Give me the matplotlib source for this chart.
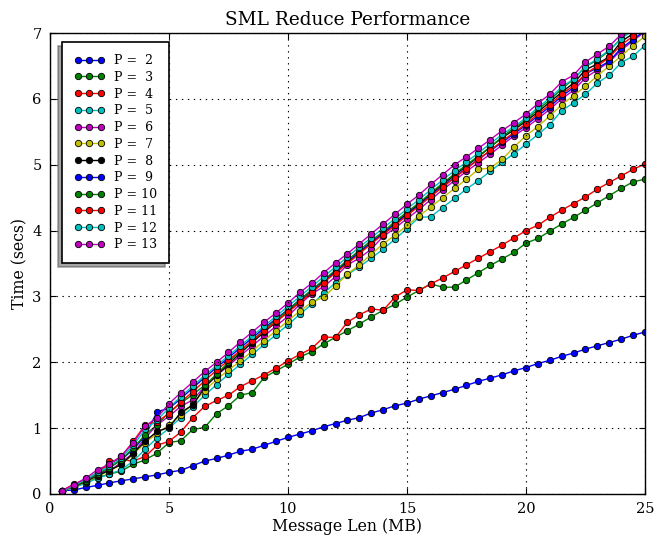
#!/usr/bin/env python3
"""
SML reduce timing: time (secs) vs message length (MB), one line per
process count P.  Writes out.png.
"""

import matplotlib
matplotlib.use("Agg")
import matplotlib.pyplot as plt

# ── Data ─────────────────────────────────────────────────────────────────────
msg_len = [
    0.5, 1.0, 1.5, 2.0, 2.5, 3.0, 3.5, 4.0, 4.5, 5.0,
    5.5, 6.0, 6.5, 7.0, 7.5, 8.0, 8.5, 9.0, 9.5, 10.0,
    10.5, 11.0, 11.5, 12.0, 12.5, 13.0, 13.5, 14.0, 14.5, 15.0,
    15.5, 16.0, 16.5, 17.0, 17.5, 18.0, 18.5, 19.0, 19.5, 20.0,
    20.5, 21.0, 21.5, 22.0, 22.5, 23.0, 23.5, 24.0, 24.5, 25.0,
]

t_p2 = [
    0.05, 0.06, 0.10, 0.13, 0.17, 0.20, 0.23, 0.26, 0.29, 0.33,
    0.36, 0.43, 0.50, 0.54, 0.59, 0.65, 0.68, 0.74, 0.80, 0.86,
    0.91, 0.96, 1.02, 1.07, 1.12, 1.16, 1.23, 1.28, 1.34, 1.38,
    1.44, 1.49, 1.54, 1.59, 1.65, 1.71, 1.76, 1.81, 1.87, 1.92,
    1.98, 2.03, 2.09, 2.14, 2.20, 2.25, 2.30, 2.35, 2.41, 2.46,
]
t_p3 = [
    0.05, 0.12, 0.18, 0.25, 0.30, 0.35, 0.45, 0.52, 0.62, 0.78,
    0.81, 0.98, 1.01, 1.22, 1.34, 1.50, 1.54, 1.77, 1.87, 1.97,
    2.08, 2.16, 2.28, 2.38, 2.48, 2.58, 2.69, 2.79, 2.88, 2.99,
    3.09, 3.19, 3.14, 3.14, 3.25, 3.36, 3.47, 3.57, 3.67, 3.81,
    3.88, 3.99, 4.10, 4.20, 4.31, 4.42, 4.53, 4.64, 4.74, 4.78,
]
t_p4 = [
    0.05, 0.15, 0.22, 0.29, 0.50, 0.52, 0.50, 0.57, 0.74, 0.80,
    0.94, 1.16, 1.33, 1.42, 1.50, 1.63, 1.72, 1.81, 1.91, 2.02,
    2.12, 2.21, 2.38, 2.38, 2.61, 2.72, 2.81, 2.79, 2.99, 3.10,
    3.09, 3.19, 3.28, 3.38, 3.48, 3.58, 3.68, 3.78, 3.89, 4.00,
    4.08, 4.20, 4.31, 4.41, 4.51, 4.63, 4.73, 4.83, 4.93, 5.01,
]
t_p5 = [
    0.04, 0.10, 0.16, 0.24, 0.30, 0.37, 0.50, 0.68, 0.85, 1.00,
    1.16, 1.32, 1.50, 1.66, 1.82, 1.97, 2.12, 2.27, 2.42, 2.57,
    2.73, 2.88, 3.05, 3.21, 3.33, 3.45, 3.58, 3.72, 3.87, 4.03,
    4.20, 4.21, 4.35, 4.49, 4.63, 4.76, 4.90, 5.04, 5.17, 5.31,
    5.46, 5.61, 5.82, 5.94, 6.07, 6.24, 6.36, 6.55, 6.65, 6.81,
]
t_p6 = [
    0.05, 0.12, 0.21, 0.32, 0.35, 0.48, 0.62, 0.85, 1.05, 1.18,
    1.33, 1.43, 1.63, 1.80, 1.95, 2.10, 2.25, 2.40, 2.55, 2.70,
    2.88, 3.04, 3.15, 3.30, 3.48, 3.58, 3.72, 3.91, 4.04, 4.18,
    4.32, 4.47, 4.62, 4.76, 4.90, 5.03, 5.16, 5.30, 5.44, 5.56,
    5.70, 5.84, 6.00, 6.13, 6.32, 6.44, 6.56, 6.74, 6.88, 7.02,
]
t_p7 = [
    0.04, 0.11, 0.18, 0.27, 0.35, 0.45, 0.60, 0.78, 0.92, 1.05,
    1.20, 1.37, 1.57, 1.74, 1.88, 2.02, 2.17, 2.33, 2.48, 2.63,
    2.78, 2.91, 2.99, 3.16, 3.34, 3.48, 3.64, 3.80, 3.93, 4.08,
    4.22, 4.36, 4.50, 4.64, 4.78, 4.93, 4.95, 5.08, 5.27, 5.44,
    5.58, 5.74, 5.91, 6.05, 6.19, 6.35, 6.50, 6.65, 6.81, 6.95,
]
t_p8 = [
    0.05, 0.11, 0.19, 0.28, 0.36, 0.45, 0.62, 0.80, 0.95, 1.01,
    1.24, 1.35, 1.62, 1.80, 1.97, 2.14, 2.30, 2.46, 2.61, 2.77,
    2.92, 3.07, 3.22, 3.37, 3.52, 3.67, 3.82, 3.96, 4.11, 4.26,
    4.40, 4.55, 4.70, 4.84, 4.98, 5.12, 5.27, 5.41, 5.53, 5.66,
    5.80, 5.95, 6.10, 6.24, 6.44, 6.53, 6.64, 6.87, 6.99, 7.13,
]
t_p9 = [
    0.05, 0.12, 0.20, 0.30, 0.40, 0.52, 0.68, 0.88, 1.25, 1.30,
    1.45, 1.61, 1.77, 1.92, 2.07, 2.22, 2.37, 2.52, 2.66, 2.80,
    2.95, 3.09, 3.24, 3.38, 3.53, 3.67, 3.82, 3.96, 4.10, 4.24,
    4.38, 4.53, 4.67, 4.81, 4.95, 5.08, 5.21, 5.34, 5.47, 5.60,
    5.74, 5.88, 6.04, 6.17, 6.38, 6.47, 6.57, 6.77, 6.90, 7.04,
]
t_p10 = [
    0.05, 0.12, 0.20, 0.30, 0.40, 0.52, 0.70, 0.90, 1.05, 1.24,
    1.38, 1.51, 1.65, 1.82, 2.00, 2.17, 2.33, 2.49, 2.65, 2.79,
    2.95, 3.10, 3.25, 3.40, 3.55, 3.70, 3.85, 3.98, 4.14, 4.28,
    4.42, 4.57, 4.72, 4.86, 5.00, 5.13, 5.27, 5.42, 5.56, 5.68,
    5.84, 5.98, 6.15, 6.30, 6.49, 6.59, 6.73, 6.92, 7.05, 7.18,
]
t_p11 = [
    0.05, 0.13, 0.22, 0.33, 0.45, 0.57, 0.80, 1.05, 1.10, 1.22,
    1.40, 1.55, 1.72, 1.88, 2.03, 2.18, 2.33, 2.48, 2.62, 2.76,
    2.91, 3.06, 3.21, 3.36, 3.50, 3.65, 3.80, 3.94, 4.08, 4.23,
    4.37, 4.52, 4.66, 4.80, 4.94, 5.08, 5.22, 5.36, 5.49, 5.62,
    5.77, 5.91, 6.07, 6.20, 6.38, 6.50, 6.63, 6.82, 6.95, 7.09,
]
t_p12 = [
    0.04, 0.13, 0.22, 0.33, 0.42, 0.55, 0.74, 0.98, 1.12, 1.31,
    1.48, 1.64, 1.80, 1.95, 2.10, 2.25, 2.40, 2.55, 2.70, 2.85,
    3.00, 3.15, 3.30, 3.45, 3.60, 3.75, 3.89, 4.04, 4.18, 4.33,
    4.47, 4.62, 4.77, 4.91, 5.04, 5.18, 5.32, 5.46, 5.58, 5.71,
    5.87, 6.01, 6.18, 6.30, 6.49, 6.61, 6.74, 6.91, 7.05, 7.19,
]
t_p13 = [
    0.05, 0.14, 0.24, 0.37, 0.45, 0.58, 0.78, 1.03, 1.16, 1.37,
    1.54, 1.70, 1.86, 2.00, 2.15, 2.31, 2.46, 2.61, 2.75, 2.90,
    3.06, 3.20, 3.36, 3.51, 3.65, 3.80, 3.95, 4.10, 4.25, 4.40,
    4.54, 4.70, 4.85, 5.00, 5.12, 5.25, 5.38, 5.52, 5.64, 5.77,
    5.93, 6.07, 6.26, 6.36, 6.56, 6.68, 6.80, 6.98, 7.12, 7.26,
]

procs = [2, 3, 4, 5, 6, 7, 8, 9, 10, 11, 12, 13]
times = [t_p2, t_p3, t_p4, t_p5, t_p6, t_p7, t_p8, t_p9, t_p10, t_p11, t_p12, t_p13]
colors = ["b", "g", "r", "c", "m", "y", "k"]

OUT_PNG = "out.png"


def main():
    plt.rcParams["font.family"] = "DejaVu Serif"
    plt.rcParams["lines.scale_dashes"] = False

    fig = plt.figure(figsize=(6.57, 5.41), dpi=100)
    ax = fig.add_axes([0.0761, 0.0869, 0.9056, 0.8521])

    for i, (p, t) in enumerate(zip(procs, times)):
        ax.plot(msg_len, t, "-o", color=colors[i % len(colors)], lw=1.0,
                markersize=4.6, markeredgecolor="k", markeredgewidth=0.6,
                label=f"P = {p:2d}")

    ax.set_xlim(0, 25)
    ax.set_ylim(0, 7)
    ax.set_xticks([0, 5, 10, 15, 20, 25])
    ax.set_yticks(range(0, 8))
    ax.tick_params(direction="in", top=True, right=True, length=4,
                   width=0.8, labelsize=10.5, pad=6)
    for s in ax.spines.values():
        s.set_linewidth(1.0)

    ax.grid(True, color="k", linestyle=(0, (1, 3.3)), linewidth=0.8)
    ax.set_axisbelow(False)

    ax.set_xlabel("Message Len (MB)", fontsize=11.3, labelpad=1)
    ax.set_ylabel("Time (secs)", fontsize=11.3, labelpad=3)
    ax.set_title("SML Reduce Performance", fontsize=13.3, pad=6)

    leg = ax.legend(loc="upper left", bbox_to_anchor=(0.02, 0.98),
                    fontsize=9, numpoints=3, fancybox=False, framealpha=1,
                    edgecolor="k", borderpad=0.95, labelspacing=0.3,
                    handlelength=2.5, handletextpad=0.7, borderaxespad=0,
                    shadow={"ox": -3, "oy": -3})
    leg.get_frame().set_linewidth(1.2)

    fig.savefig(OUT_PNG, dpi=100, facecolor="white")


if __name__ == "__main__":
    main()
